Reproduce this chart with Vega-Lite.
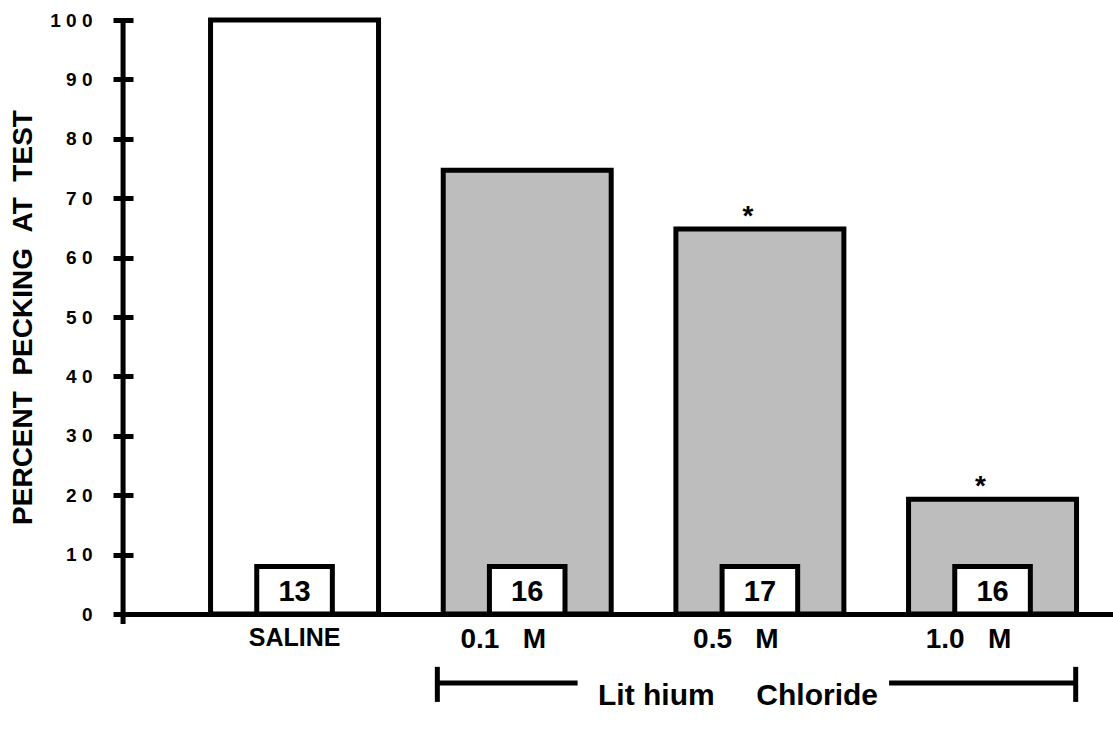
{
  "$schema": "https://vega.github.io/schema/vega-lite/v6.json",
  "width": 990,
  "height": 594,
  "autosize": "none",
  "padding": {"left": 123, "top": 20, "right": 0, "bottom": 124},
  "background": "white",
  "config": {"view": {"stroke": null}, "font": "Liberation Sans"},
  "data": {
    "values": [
      {"cat": "SALINE", "pct": 100, "n": "13", "sig": "", "group": "saline"},
      {"cat": "0.1\u00a0\u00a0\u00a0M", "pct": 74.7, "n": "16", "sig": "", "group": "licl"},
      {"cat": "0.5\u00a0\u00a0\u00a0M", "pct": 64.8, "n": "17", "sig": "*", "group": "licl"},
      {"cat": "1.0\u00a0\u00a0\u00a0M", "pct": 19.3, "n": "16", "sig": "*", "group": "licl"}
    ]
  },
  "layer": [
    {
      "mark": {"type": "bar", "stroke": "black", "strokeWidth": 5},
      "encoding": {
        "x": {
          "field": "cat", "type": "nominal", "sort": null,
          "scale": {"paddingInner": 0.278, "paddingOuter": 0.2665, "align": 0.706},
          "axis": {
            "title": null, "labelAngle": 0, "ticks": false,
            "domain": true, "domainColor": "black", "domainWidth": 5,
            "labelFont": "Liberation Sans", "labelFontWeight": "bold",
            "labelFontSize": {"condition": {"test": "datum.label === 'SALINE'", "value": 25}, "value": 28},
            "labelColor": "black", "labelPadding": 11, "labelBaseline": "top",
            "labelOffset": {"condition": {"test": "datum.label === 'SALINE'", "value": 0}, "value": -24}
          }
        },
        "y": {
          "field": "pct", "type": "quantitative",
          "scale": {"domain": [0, 100], "nice": false},
          "axis": {
            "title": "PERCENT\u00a0\u00a0PECKING\u00a0\u00a0AT\u00a0\u00a0TEST",
            "orient": "left", "offset": -10, "tickSize": 20, "tickWidth": 5, "tickColor": "black",
            "domain": false, "grid": false,
            "values": [0, 10, 20, 30, 40, 50, 60, 70, 80, 90, 100],
            "labelExpr": "join(split(datum.label, ''), '\u00a0')",
            "labelFont": "Liberation Sans", "labelFontWeight": "bold", "labelFontSize": 19,
            "labelColor": "black", "labelPadding": 21,
            "titleFont": "Liberation Sans", "titleFontWeight": "bold", "titleFontSize": 28,
            "titleColor": "black", "titlePadding": 12
          }
        },
        "fill": {
          "field": "group", "type": "nominal",
          "scale": {"domain": ["saline", "licl"], "range": ["white", "#bdbdbd"]},
          "legend": null
        }
      }
    },
    {
      "mark": {"type": "bar", "fill": "white", "stroke": "black", "strokeWidth": 5, "width": {"band": 0.45}},
      "encoding": {
        "x": {"field": "cat", "type": "nominal", "sort": null},
        "y": {"datum": 8}
      }
    },
    {
      "mark": {"type": "text", "fontSize": 29, "fontWeight": "bold", "baseline": "middle", "color": "black"},
      "encoding": {
        "x": {"field": "cat", "type": "nominal", "sort": null},
        "y": {"datum": 3.7},
        "text": {"field": "n"}
      }
    },
    {
      "mark": {"type": "text", "fontSize": 28, "fontWeight": "bold", "baseline": "alphabetic", "dy": -4, "dx": -12, "color": "black"},
      "encoding": {
        "x": {"field": "cat", "type": "nominal", "sort": null},
        "y": {"field": "pct", "type": "quantitative"},
        "text": {"field": "sig"}
      }
    },
    {
      "data": {"values": [{}]},
      "mark": {"type": "rule", "strokeWidth": 5, "color": "black"},
      "encoding": {
        "x": {"datum": "SALINE", "bandPosition": -0.5208},
        "y": {"datum": -1.7},
        "y2": {"datum": 100}
      }
    },
    {
      "data": {"values": [{}]},
      "mark": {"type": "rule", "strokeWidth": 5, "color": "black"},
      "encoding": {
        "x": {"datum": "0.1\u00a0\u00a0\u00a0M", "bandPosition": -0.035},
        "x2": {"datum": "0.1\u00a0\u00a0\u00a0M", "bandPosition": 0.8},
        "y": {"datum": -11.6}
      }
    },
    {
      "data": {"values": [{}]},
      "mark": {"type": "rule", "strokeWidth": 5, "color": "black"},
      "encoding": {
        "x": {"datum": "1.0\u00a0\u00a0\u00a0M", "bandPosition": -0.116},
        "x2": {"datum": "1.0\u00a0\u00a0\u00a0M", "bandPosition": 0.995},
        "y": {"datum": -11.6}
      }
    },
    {
      "data": {"values": [{}]},
      "mark": {"type": "rule", "strokeWidth": 5, "color": "black"},
      "encoding": {
        "x": {"datum": "0.1\u00a0\u00a0\u00a0M", "bandPosition": -0.035},
        "y": {"datum": -8.9},
        "y2": {"datum": -14.8}
      }
    },
    {
      "data": {"values": [{}]},
      "mark": {"type": "rule", "strokeWidth": 5, "color": "black"},
      "encoding": {
        "x": {"datum": "1.0\u00a0\u00a0\u00a0M", "bandPosition": 0.995},
        "y": {"datum": -8.9},
        "y2": {"datum": -14.8}
      }
    },
    {
      "data": {"values": [{"label": "Lit\u00a0hium\u00a0\u00a0\u00a0\u00a0\u00a0Chloride"}]},
      "mark": {"type": "text", "fontSize": 30, "fontWeight": "bold", "baseline": "middle", "color": "black"},
      "encoding": {
        "x": {"datum": "0.5\u00a0\u00a0\u00a0M", "bandPosition": 0.37},
        "y": {"datum": -13.8},
        "text": {"field": "label"}
      }
    }
  ]
}
